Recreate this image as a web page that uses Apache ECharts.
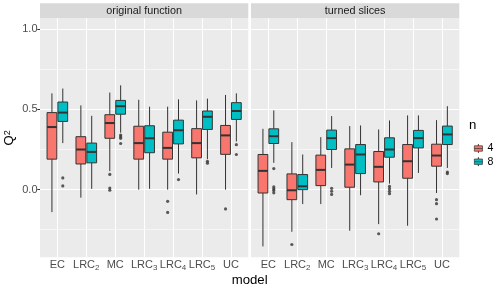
<!DOCTYPE html>
<html><head><meta charset="utf-8">
<script src="https://cdn.jsdelivr.net/npm/echarts@6/dist/echarts.min.js"></script>
<style>html,body{margin:0;padding:0;background:#fff}#c{width:498px;height:291px}</style>
</head><body><div id="c"></div>
<script>
const categories = ['EC','LRC2','MC','LRC3','LRC4','LRC5','UC'];
const facets = ['original function','turned slices'];
const groups = ['4','8'];
const yTicks = [0, 0.5, 1.0];
const yMinor = [-0.25, 0.25, 0.75];
// box stats: [lower whisker, Q1, median, Q3, upper whisker]
const origN4 = [
  [-0.14, 0.19, 0.39, 0.48, 0.60],
  [-0.05, 0.16, 0.25, 0.33, 0.525],
  [0.115, 0.32, 0.415, 0.467, 0.605],
  [0.00, 0.19, 0.29, 0.395, 0.56],
  [0.00, 0.19, 0.26, 0.358, 0.517],
  [-0.03, 0.198, 0.29, 0.38, 0.556],
  [0.00, 0.22, 0.338, 0.40, 0.59]
];
const origN8 = [
  [0.29, 0.425, 0.48, 0.546, 0.63],
  [0.005, 0.167, 0.235, 0.29, 0.46],
  [0.355, 0.47, 0.52, 0.556, 0.65],
  [0.005, 0.23, 0.32, 0.398, 0.517],
  [0.10, 0.285, 0.37, 0.433, 0.5625],
  [0.19, 0.375, 0.454, 0.49, 0.567],
  [0.30, 0.4375, 0.49, 0.542, 0.60]
];
const turnN4 = [
  [-0.354, -0.021, 0.117, 0.219, 0.379],
  [-0.2625, -0.0625, -0.004, 0.098, 0.296],
  [-0.09, 0.025, 0.123, 0.215, 0.327],
  [-0.256, 0.015, 0.156, 0.254, 0.396],
  [-0.215, 0.048, 0.142, 0.2375, 0.375],
  [-0.225, 0.071, 0.177, 0.281, 0.4625],
  [-0.021, 0.146, 0.2125, 0.283, 0.433]
];
const turnN8 = [
  [0.167, 0.2875, 0.333, 0.379, 0.494],
  [-0.09, 0.0, 0.021, 0.094, 0.219],
  [0.135, 0.25, 0.321, 0.371, 0.458],
  [-0.035, 0.1, 0.219, 0.281, 0.40],
  [0.0375, 0.202, 0.25, 0.323, 0.431],
  [0.104, 0.26, 0.321, 0.369, 0.4625],
  [0.135, 0.281, 0.344, 0.396, 0.52]
];
// outliers: [category index, value]
const origOut4 = [[2,0.095],[2,0.01],[2,-0.004],[4,-0.073],[4,-0.142],[6,-0.12]];
const origOut8 = [[0,0.073],[0,0.023],[2,0.34],[2,0.33],[2,0.32],[2,0.2875],[4,0.0625],[5,0.177],[5,0.165],[6,0.28],[6,0.219]];
const turnOut4 = [[1,-0.342],[4,-0.275],[6,-0.0625],[6,-0.0875],[6,-0.183]];
const turnOut8 = [[0,0.131],[0,0.017],[0,0.005],[0,-0.005],[0,-0.02],[2,0.008],[2,-0.01],[2,-0.03],[4,0.02],[4,0.005],[4,-0.01],[4,-0.025],[6,0.11],[6,0.10]];

const FONT = "'Liberation Sans', Arial, Helvetica, sans-serif";
const Y_MIN = -0.4217, Y_MAX = 1.0677;
const X_MIN = 0.4, X_MAX = 7.6;
const colors = {'4':'#F8766D','8':'#00BFC4'};
const DODGE = 0.1875, BOX_W = 0.3375;
const panelLefts = [40, 251], panelW = 208.3, panelTop = 18.3, panelH = 239;
const catPos = categories.map((c,i)=>i+1);

function catLabel(v){
  const c = categories[Math.round(v)-1] || '';
  const m = c.match(/^(\D+)(\d+)$/);
  return m ? m[1] + '{sub|' + m[2] + '}' : c;
}

function boxSeries(g, stats, group, sign){
  return {
    type:'custom', name: group, xAxisIndex:g, yAxisIndex:g, z:10,
    itemStyle:{color:colors[group]},
    data: stats.map((s,i)=>[catPos[i] + sign*DODGE, s[0], s[1], s[2], s[3], s[4]]),
    encode:{x:0, y:[1,2,3,4,5]},
    renderItem:(params, api)=>{
      const x = api.value(0);
      const p0 = api.coord([x, api.value(1)]);
      const y1 = api.coord([x, api.value(2)])[1];
      const y2 = api.coord([x, api.value(3)])[1];
      const y3 = api.coord([x, api.value(4)])[1];
      const y4 = api.coord([x, api.value(5)])[1];
      const px = p0[0];
      const hw = api.size([BOX_W, 0])[0]/2;
      const ln = {stroke:'#333333', lineWidth:1};
      return {type:'group', children:[
        {type:'line', shape:{x1:px,y1:y1,x2:px,y2:p0[1]}, style:ln},
        {type:'line', shape:{x1:px,y1:y3,x2:px,y2:y4}, style:ln},
        {type:'rect', shape:{x:px-hw,y:y3,width:2*hw,height:y1-y3}, style:{fill:colors[group], stroke:'#333333', lineWidth:1}},
        {type:'line', shape:{x1:px-hw,y1:y2,x2:px+hw,y2:y2}, style:{stroke:'#333333', lineWidth:2}}
      ]};
    }
  };
}
function outSeries(g, outs, group, sign, withGrid){
  const s = {
    type:'scatter', name:'out'+group, xAxisIndex:g, yAxisIndex:g, z:11,
    symbolSize:3.2, itemStyle:{color:'#333333'}, silent:true,
    data: outs.map(o=>[catPos[o[0]] + sign*DODGE, o[1]])
  };
  if (withGrid){
    const major = {color:'#FFFFFF', width:1.1, type:'solid'};
    const minor = {color:'#FFFFFF', width:0.55, type:'solid'};
    s.markLine = {
      silent:true, symbol:'none', z:1, label:{show:false}, animation:false,
      lineStyle: major,
      data: [
        ...yMinor.map(v=>({yAxis:v, lineStyle:minor})),
        ...yTicks.map(v=>({yAxis:v, lineStyle:major})),
        ...catPos.map(v=>({xAxis:v, lineStyle:major}))
      ]
    };
  }
  return s;
}

const grids = panelLefts.map(l=>({left:l, top:panelTop, width:panelW, height:panelH, show:true, backgroundColor:'#EBEBEB', borderWidth:0, containLabel:false}));
const xAxes = panelLefts.map((l,g)=>({
  type:'value', gridIndex:g, min:X_MIN, max:X_MAX,
  axisLine:{show:false}, splitLine:{show:false},
  axisTick:{show:true, customValues:catPos, length:2.7, lineStyle:{color:'#333333', width:1}},
  axisLabel:{show:true, customValues:catPos, formatter:catLabel, margin:1.5, color:'#4D4D4D',
    fontSize:11, fontFamily:FONT, lineHeight:13,
    rich:{sub:{fontSize:8, fontFamily:FONT, color:'#4D4D4D', verticalAlign:'bottom', lineHeight:8, padding:[6,0,0,0]}}}
}));
const yAxes = panelLefts.map((l,g)=>({
  type:'value', gridIndex:g, min:Y_MIN, max:Y_MAX,
  axisLine:{show:false}, splitLine:{show:false},
  axisTick:{show:g===0, customValues:yTicks, length:2.7, lineStyle:{color:'#333333', width:1}},
  axisLabel:{show:g===0, customValues:yTicks, formatter:v=>v.toFixed(1), margin:2.5, color:'#4D4D4D', fontSize:11, fontFamily:FONT},
  name: g===0 ? 'Q{sup|2}' : '', nameLocation:'middle', nameGap:20, nameRotate:90,
  nameTextStyle:{fontSize:13.2, color:'#000', fontFamily:FONT,
    rich:{sup:{fontSize:9, fontFamily:FONT, color:'#000', verticalAlign:'top', lineHeight:9, padding:[0,0,6,0]}}}
}));

const series = [
  boxSeries(0, origN4, '4', -1), boxSeries(0, origN8, '8', 1),
  outSeries(0, origOut4, '4', -1, true), outSeries(0, origOut8, '8', 1, false),
  boxSeries(1, turnN4, '4', -1), boxSeries(1, turnN8, '8', 1),
  outSeries(1, turnOut4, '4', -1, true), outSeries(1, turnOut8, '8', 1, false)
];

const legendIcon = 'path://M39.5,0 L41.5,0 L41.5,16.2 L81,16.2 L81,70.2 L41.5,70.2 L41.5,86.4 L39.5,86.4 L39.5,70.2 L0,70.2 L0,16.2 L39.5,16.2 Z M0,43.2 L81,43.2';

const graphics = [];
facets.forEach((f,g)=>{
  graphics.push({type:'rect', shape:{x:panelLefts[g], y:3.3, width:panelW, height:15}, style:{fill:'#D9D9D9'}, silent:true});
  graphics.push({type:'text', x:panelLefts[g]+panelW/2, y:11, style:{text:f, fill:'#1A1A1A', font:'10.8px '+FONT, align:'center', verticalAlign:'middle'}, silent:true});
});
graphics.push({type:'text', x:(panelLefts[0]+panelLefts[1]+panelW)/2, y:280, style:{text:'model', fill:'#000', font:'13.2px '+FONT, align:'center', verticalAlign:'middle'}});
graphics.push({type:'text', x:469, y:125, style:{text:'n', fill:'#000', font:'13.2px '+FONT, align:'left', verticalAlign:'middle'}});

const chart = echarts.init(document.getElementById('c'), null, {renderer:'canvas'});
chart.setOption({
  animation:false,
  backgroundColor:'#FFFFFF',
  grid:grids, xAxis:xAxes, yAxis:yAxes, series:series,
  legend:{data:groups, orient:'vertical', left:469, top:138, itemWidth:8.1, itemHeight:8.64, itemGap:2.2,
    icon:legendIcon, itemStyle:{borderColor:'#333333', borderWidth:0.7},
    textStyle:{fontSize:10.6, color:'#000', fontFamily:FONT, padding:[0,0,0,0]}, selectedMode:false},
  graphic:graphics
});
</script></body></html>
